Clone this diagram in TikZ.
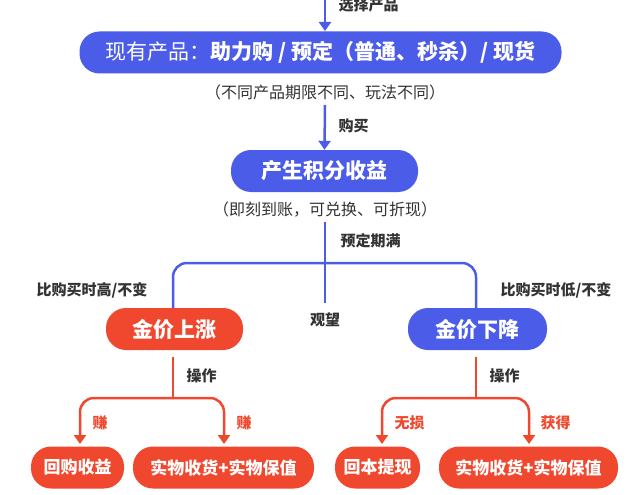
\documentclass[tikz,border=0pt]{standalone}
\usepackage{fontspec}
\setmainfont{Noto Sans CJK SC}
\usetikzlibrary{arrows.meta}
\definecolor{bl}{HTML}{4B5CE8}
\definecolor{rd}{HTML}{F0482E}
\definecolor{tx}{HTML}{333333}
\tikzset{
 pill/.style={rounded corners=20pt,minimum height=42pt,inner sep=0pt,text=white,font=\bfseries\fontsize{21}{21}\selectfont},
 bpill/.style={pill,fill=bl},
 rpill/.style={pill,fill=rd},
 spill/.style={rpill,font=\bfseries\fontsize{17}{17}\selectfont},
 lab/.style={font=\bfseries\fontsize{15}{15}\selectfont,text=tx},
 rlab/.style={font=\bfseries\fontsize{15}{15}\selectfont,text=rd},
 sub/.style={font=\fontsize{16}{16}\selectfont,text=tx},
 bline/.style={draw=bl,line width=2.5pt},
 rline/.style={draw=rd,line width=2.5pt},
 tip/.style={-{Triangle[width=12pt,length=9pt]}},
}
\begin{document}
\begin{tikzpicture}[x=1pt,y=-1pt]
\useasboundingbox[fill=white] (0,0) rectangle (640,495);
\coordinate (t0) at (325,-2);
\node[bpill,minimum width=482pt] (p1) at (320.5,52.5) {\mdseries 现有产品：\bfseries 助力购 / 预定（普通、秒杀）/ 现货};
\node[sub] (s1) at (325,92) {（不同产品期限不同、玩法不同）};
\node[bpill,minimum width=187pt] (p2) at (324.5,171) {产生积分收益};
\node[sub] (s2) at (325,210) {（即刻到账，可兑换、可折现）};
\node[rpill,minimum width=137pt] (up) at (174.5,329) {金价上涨};
\node[bpill,minimum width=139pt] (dn) at (477.5,329) {金价下降};
\node[spill,minimum width=93pt] (b1) at (77.5,467.5) {回购收益};
\node[spill,minimum width=181pt] (b2) at (223.5,467.5) {实物收货+实物保值};
\node[spill,minimum width=85pt] (b3) at (377.5,467.5) {回本提现};
\node[spill,minimum width=179pt] (b4) at (528.5,467.5) {实物收货+实物保值};

\draw[bline,tip] (t0) -- (325,31);
\node[lab,anchor=west] (l0) at (335,5) {选择产品};
\coordinate (a1) at (325,105);
\draw[bline,tip] (a1) -- (p2.north);
\node[lab,anchor=west] (l1) at (335,126) {购买};
\coordinate (c0) at (325,222);
\coordinate (c1) at (325,303);
\draw[bline] (c0) -- (c1);
\node[lab,anchor=west] (l2) at (337,241) {预定期满};
\draw[bline,rounded corners=14pt] (up.north -| 173,0) -- (173,263) -- (476,263) -- (dn.north -| 476,0);
\node[lab] (l3) at (92,290) {比购买时高/不变};
\node[lab] (l4) at (556,290) {比购买时低/不变};
\node[lab] (l5) at (325,320) {观望};

\coordinate (r1) at (173,357);
\coordinate (r2) at (173,398);
\draw[rline] (r1) -- (r2);
\draw[rline,tip,rounded corners=14pt] (r2) -- (80,398) -- (80,444);
\draw[rline,tip,rounded corners=14pt] (r2) -- (224,398) -- (224,444);
\node[lab,anchor=west] (o1) at (183,376) {操作};
\node[rlab,anchor=west] (g1) at (89,423) {赚};
\node[rlab,anchor=west] (g2) at (233,423) {赚};

\coordinate (r3) at (476,357);
\coordinate (r4) at (476,398);
\draw[rline] (r3) -- (r4);
\draw[rline,tip,rounded corners=14pt] (r4) -- (382,398) -- (382,444);
\draw[rline,tip,rounded corners=14pt] (r4) -- (529,398) -- (529,444);
\node[lab,anchor=west] (o2) at (486,376) {操作};
\node[rlab,anchor=west] (g3) at (391,423) {无损};
\node[rlab,anchor=west] (g4) at (537,423) {获得};
\end{tikzpicture}
\end{document}
